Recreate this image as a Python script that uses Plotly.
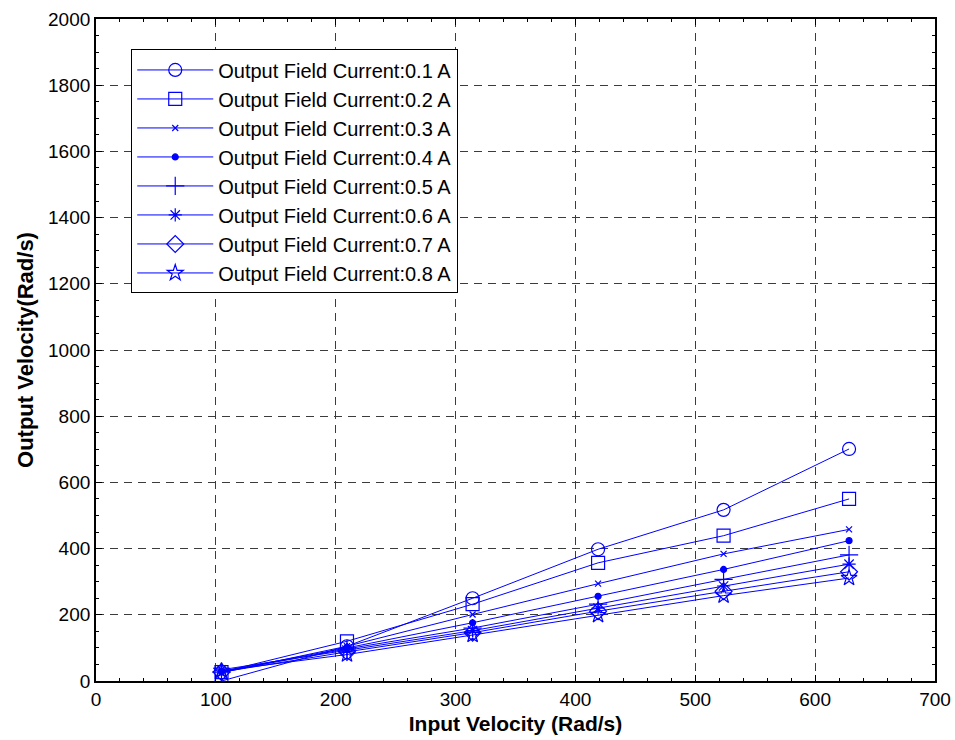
import plotly.graph_objects as go

# Input shaft speeds (rad/s) for 1000..6000 rpm
input_velocity = [104.7, 209.4, 314.2, 418.9, 523.6, 628.3]

field_current_labels = [
    "Output Field Current:0.1 A",
    "Output Field Current:0.2 A",
    "Output Field Current:0.3 A",
    "Output Field Current:0.4 A",
    "Output Field Current:0.5 A",
    "Output Field Current:0.6 A",
    "Output Field Current:0.7 A",
    "Output Field Current:0.8 A",
]

# Output velocity (rad/s) for each field current
out_01 = [0, 105, 250, 398, 517, 701]
out_02 = [27, 120, 232, 357, 439, 550]
out_03 = [25, 105, 201, 294, 384, 458]
out_04 = [29, 100, 176, 256, 337, 424]
out_05 = [27, 97, 160, 232, 307, 381]
out_06 = [34, 93, 152, 220, 287, 353]
out_07 = [27, 88, 146, 211, 271, 330]
out_08 = [31, 80, 139, 199, 258, 311]

series = [out_01, out_02, out_03, out_04, out_05, out_06, out_07, out_08]

x_ticks = [0, 100, 200, 300, 400, 500, 600, 700]
y_ticks = [0, 200, 400, 600, 800, 1000, 1200, 1400, 1600, 1800, 2000]

symbols = ["circle-open", "square-open", "x-thin-open", "circle",
           "cross-thin-open", "asterisk-open", "diamond-open", "star-open"]
sizes = [13, 13, 6, 6, 13, 11, 13, 12]

BLUE = "#0000FF"

fig = go.Figure()
for i, (label, ys) in enumerate(zip(field_current_labels, series)):
    fig.add_trace(go.Scatter(
        x=input_velocity, y=ys, name=label,
        mode="lines+markers", legendgroup=f"g{i}",
        line=dict(color=BLUE, width=1),
        marker=dict(symbol=symbols[i], size=sizes[i], color=BLUE,
                    line=dict(color=BLUE, width=1.2)),
    ))

axis_common = dict(
    showline=True, linecolor="black", linewidth=1.8, mirror="allticks",
    ticks="inside", ticklen=6, tickcolor="black", tickwidth=1,
    showgrid=True, gridcolor="#3c3c3c", gridwidth=1, griddash="8px,6px",
    zeroline=False, automargin=False,
    tickfont=dict(family="Liberation Sans, Arial", size=19, color="black"),
)

TITLE_FONT = "Liberation Sans Narrow, Arial Narrow, Liberation Sans"

fig.update_xaxes(
    range=[0, 700], tickvals=x_ticks, ticktext=[str(v) for v in x_ticks],
    minor=dict(dtick=20, ticks="inside", ticklen=3, tickcolor="black", showgrid=False),
    title=dict(text="<b>Input Velocity (Rad/s)</b>", standoff=8,
               font=dict(family=TITLE_FONT, size=21, color="black")),
    **axis_common,
)
fig.update_yaxes(
    range=[0, 2000], tickvals=y_ticks, ticktext=[str(v) for v in y_ticks],
    minor=dict(dtick=50, ticks="inside", ticklen=3, tickcolor="black", showgrid=False),
    title=dict(text="<b>Output Velocity(Rad/s)</b>", standoff=8,
               font=dict(family=TITLE_FONT, size=22, color="black")),
    **axis_common,
)

fig.update_layout(
    width=955, height=740,
    margin=dict(l=96, r=20, t=19, b=59),
    paper_bgcolor="white", plot_bgcolor="white",
    font=dict(family="Liberation Sans, Arial", color="black"),
    legend=dict(
        x=0.042, y=0.954, xanchor="left", yanchor="top",
        bgcolor="white", bordercolor="black", borderwidth=1,
        font=dict(family="Liberation Sans, Arial", size=20, color="black"),
        traceorder="grouped", tracegroupgap=0, itemwidth=76,
    ),
)

fig.write_html("out.html")
